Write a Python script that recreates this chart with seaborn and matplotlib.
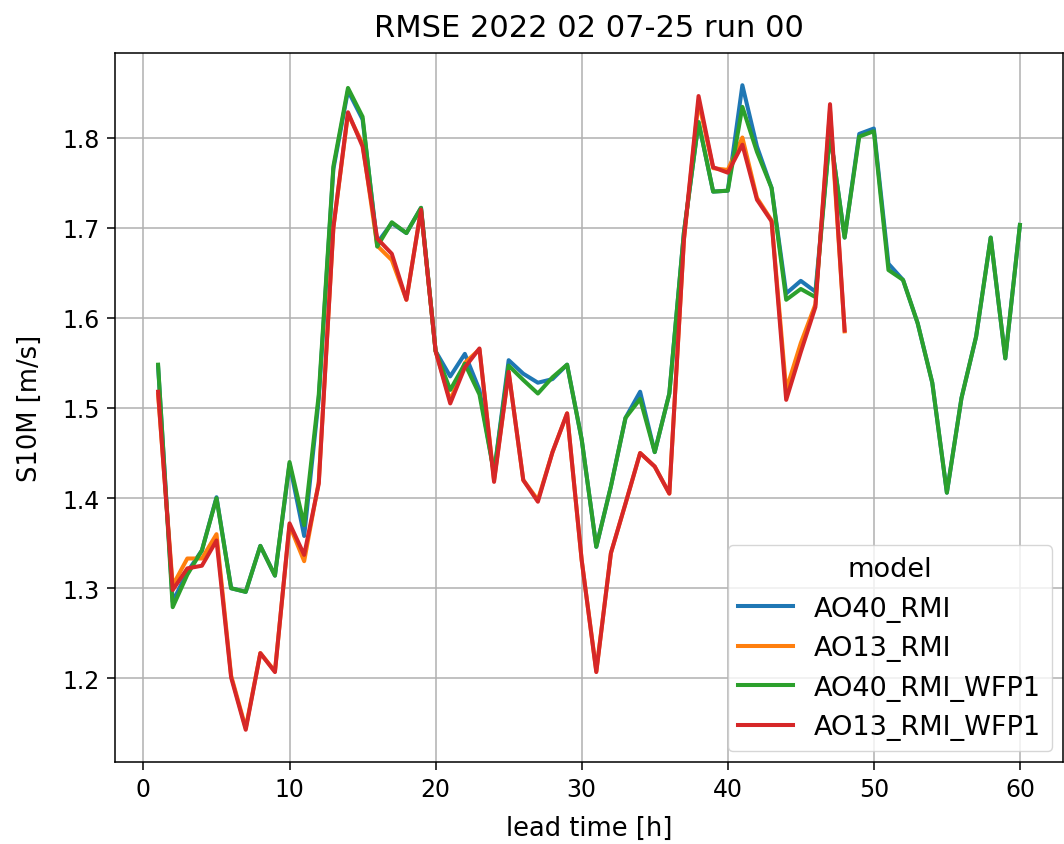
import numpy as np
import pandas as pd
import matplotlib
matplotlib.use("Agg")
import matplotlib.pyplot as plt
import seaborn as sns

# Hourly RMSE of 10 m wind speed per model run
lead_time = list(range(1, 61))

ao40_rmi = [
    1.546, 1.285, 1.318, 1.342, 1.401, 1.300, 1.296, 1.347, 1.314, 1.438,
    1.358, 1.510, 1.765, 1.852, 1.820, 1.683, 1.705, 1.694, 1.722, 1.563,
    1.535, 1.560, 1.520, 1.428, 1.553, 1.538, 1.528, 1.532, 1.548, 1.465,
    1.346, 1.413, 1.489, 1.518, 1.451, 1.516, 1.695, 1.817, 1.740, 1.741,
    1.858, 1.790, 1.744, 1.627, 1.641, 1.629, 1.805, 1.689, 1.804, 1.810,
    1.660, 1.642, 1.594, 1.528, 1.406, 1.511, 1.579, 1.689, 1.555, 1.703,
]

ao13_rmi = [
    1.515, 1.303, 1.333, 1.333, 1.360, 1.203, 1.145, 1.228, 1.208, 1.370,
    1.330, 1.418, 1.700, 1.826, 1.793, 1.680, 1.664, 1.620, 1.720, 1.563,
    1.508, 1.550, 1.565, 1.420, 1.540, 1.420, 1.398, 1.451, 1.494, 1.331,
    1.208, 1.339, 1.394, 1.450, 1.435, 1.405, 1.687, 1.840, 1.766, 1.764,
    1.800, 1.733, 1.708, 1.520, 1.572, 1.615, 1.830, 1.585,
]

ao40_rmi_wfp1 = [
    1.548, 1.279, 1.315, 1.342, 1.400, 1.300, 1.296, 1.347, 1.314, 1.440,
    1.370, 1.515, 1.768, 1.855, 1.823, 1.679, 1.706, 1.694, 1.722, 1.563,
    1.520, 1.549, 1.515, 1.428, 1.547, 1.531, 1.516, 1.534, 1.548, 1.465,
    1.346, 1.413, 1.489, 1.510, 1.451, 1.516, 1.695, 1.817, 1.740, 1.741,
    1.834, 1.784, 1.744, 1.620, 1.632, 1.623, 1.805, 1.689, 1.801, 1.807,
    1.653, 1.642, 1.594, 1.528, 1.406, 1.511, 1.579, 1.689, 1.555, 1.703,
]

ao13_rmi_wfp1 = [
    1.518, 1.298, 1.322, 1.325, 1.353, 1.201, 1.143, 1.228, 1.207, 1.372,
    1.337, 1.416, 1.700, 1.828, 1.790, 1.688, 1.671, 1.620, 1.720, 1.563,
    1.505, 1.545, 1.566, 1.418, 1.540, 1.420, 1.396, 1.451, 1.494, 1.331,
    1.207, 1.339, 1.394, 1.450, 1.435, 1.405, 1.687, 1.846, 1.767, 1.761,
    1.792, 1.731, 1.707, 1.509, 1.562, 1.612, 1.837, 1.586,
]

models = ["AO40_RMI", "AO13_RMI", "AO40_RMI_WFP1", "AO13_RMI_WFP1"]
series = [ao40_rmi, ao13_rmi, ao40_rmi_wfp1, ao13_rmi_wfp1]

frames = []
for name, vals in zip(models, series):
    frames.append(pd.DataFrame({
        "lead time [h]": lead_time[:len(vals)],
        "S10M [m/s]": vals,
        "model": name,
    }))
df = pd.concat(frames, ignore_index=True)

plt.rcParams["font.family"] = ["DejaVu Sans"]

fig = plt.figure(figsize=(10.64, 8.45), dpi=100)
ax = fig.add_axes([115 / 1064, (845 - 763) / 845, 948 / 1064, 709 / 845])

sns.lineplot(data=df, x="lead time [h]", y="S10M [m/s]", hue="model",
             hue_order=models, palette="tab10", linewidth=2.9, ax=ax)

ax.grid(True, color="#b0b0b0", linewidth=1.1)
ax.set_axisbelow(True)
for sp in ax.spines.values():
    sp.set_linewidth(1.1)
    sp.set_color("black")
ax.tick_params(labelsize=17, length=6, width=1.1, pad=5)
ax.set_xlabel("lead time [h]", fontsize=18.5, labelpad=10)
ax.set_ylabel("S10M [m/s]", fontsize=18.5, labelpad=14)
ax.set_title("RMSE 2022 02 07-25 run 00", fontsize=22, pad=12)

leg = ax.legend(title="model", loc="lower right", fontsize=19.5,
                title_fontsize=19.5, frameon=True, handlelength=2.0,
                borderaxespad=0.4)
for line in leg.get_lines():
    line.set_linewidth(2.9)

fig.savefig("out.png", dpi=100)
